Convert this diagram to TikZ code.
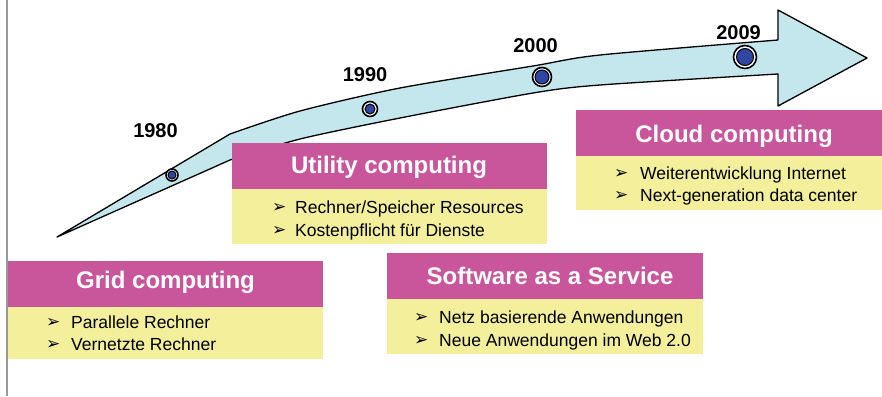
\documentclass[tikz,border=0pt]{standalone}
\usepackage{fontspec}
\setmainfont{Liberation Sans}
\newfontfamily\dejavu{DejaVu Sans}
\definecolor{magbox}{HTML}{C9569B}
\definecolor{yelbox}{HTML}{F3EF9B}
\definecolor{arrowfill}{HTML}{C4E7EE}
\definecolor{dotblue}{HTML}{2F46A2}
\tikzset{
  titlebox/.style={rectangle, fill=magbox, draw=none, inner sep=0pt, outer sep=0pt, anchor=north west},
  bodybox/.style={rectangle, fill=yelbox, draw=none, inner sep=0pt, outer sep=0pt, anchor=north west},
  titletxt/.style={inner sep=0pt, anchor=base, text=white, font=\fontsize{24}{28}\selectfont\bfseries},
  bodytxt/.style={inner sep=0pt, anchor=base west, text=black, font=\fontsize{17.5}{20}\selectfont},
  bul/.style={inner sep=0pt, anchor=base west, text=black, font=\dejavu\fontsize{17}{20}\selectfont},
  yeartxt/.style={inner sep=0pt, anchor=base, text=black, font=\fontsize{20}{24}\selectfont\bfseries},
  timeline/.style={fill=arrowfill, draw=black, line width=1.3pt, line join=round},
}
\newcommand{\yeardot}[3]{%
  \fill[white, draw=black, line width=1.6pt] (#1) circle[radius=#2pt];
  \fill[dotblue, draw=black, line width=1.0pt] (#1) circle[radius=#3pt];
}
\begin{document}
\begin{tikzpicture}[x=1pt, y=-1pt]
\useasboundingbox (0,0) rectangle (882,396);
\fill[white] (0,0) rectangle (882,396);
% left gray rule
\draw[gray!80, line width=1.8pt] (7,0) -- (7,396);

% timeline arrow
\draw[timeline]
  (57,237) -- (230,134)
  -- plot[smooth, tension=0.45] coordinates {(230,134) (300,111) (400,88) (533,66) (600,55) (778,40)}
  -- (778,10) -- (867,58) -- (778,106) -- (778,74)
  -- plot[smooth, tension=0.45] coordinates {(778,74) (600,85) (533,93) (400,118) (300,139) (230,160)}
  -- cycle;

% year dots
\coordinate (d1980) at (172,175);
\coordinate (d1990) at (370,109);
\coordinate (d2000) at (542,77);
\coordinate (d2009) at (745,57);
\yeardot{d1980}{6}{4}
\yeardot{d1990}{7.5}{5}
\yeardot{d2000}{9.5}{7}
\yeardot{d2009}{11.5}{8.5}

% years
\node[yeartxt] (y1980) at (155.5,137) {1980};
\node[yeartxt] (y1990) at (365,81.7) {1990};
\node[yeartxt] (y2000) at (535.5,52.7) {2000};
\node[yeartxt] (y2009) at (738.5,39.3) {2009};

% Grid computing
\node[titlebox, minimum width=315pt, minimum height=46pt] (gridT) at (8,261) {};
\node[bodybox, minimum width=315pt, minimum height=52pt] (gridB) at (8,307) {};
\node[titletxt] (gridTt) at (165.5,288) {Grid computing};
\node[bul] (gb1) at (46,327) {➢};
\node[bodytxt] (gl1) at (71,328) {Parallele Rechner};
\node[bul] (gb2) at (46,349) {➢};
\node[bodytxt] (gl2) at (71,350) {Vernetzte Rechner};

% Utility computing
\node[titlebox, minimum width=315pt, minimum height=46pt] (utilT) at (232,143) {};
\node[bodybox, minimum width=315pt, minimum height=55pt] (utilB) at (232,189) {};
\node[titletxt] (utilTt) at (389,173) {Utility computing};
\node[bul] (ub1) at (272,212) {➢};
\node[bodytxt] (ul1) at (295,213) {Rechner/Speicher Resources};
\node[bul] (ub2) at (272,235) {➢};
\node[bodytxt] (ul2) at (295,236) {Kostenpflicht für Dienste};

% Software as a Service
\node[titlebox, minimum width=316pt, minimum height=46pt] (saasT) at (387,253) {};
\node[bodybox, minimum width=316pt, minimum height=55pt] (saasB) at (387,299) {};
\node[titletxt] (saasTt) at (550,284) {Software as a Service};
\node[bul] (sb1) at (414,322) {➢};
\node[bodytxt] (sl1) at (439,323) {Netz basierende Anwendungen};
\node[bul] (sb2) at (414,345) {➢};
\node[bodytxt] (sl2) at (439,346) {Neue Anwendungen im Web 2.0};

% Cloud computing
\node[titlebox, minimum width=316pt, minimum height=46pt] (cloudT) at (576,110) {};
\node[bodybox, minimum width=316pt, minimum height=54pt] (cloudB) at (576,156) {};
\node[titletxt] (cloudTt) at (734,142) {Cloud computing};
\node[bul] (cb1) at (614,178) {➢};
\node[bodytxt] (cl1) at (640,179) {Weiterentwicklung Internet};
\node[bul] (cb2) at (614,200) {➢};
\node[bodytxt] (cl2) at (640,201) {Next-generation data center};
\end{tikzpicture}
\end{document}
